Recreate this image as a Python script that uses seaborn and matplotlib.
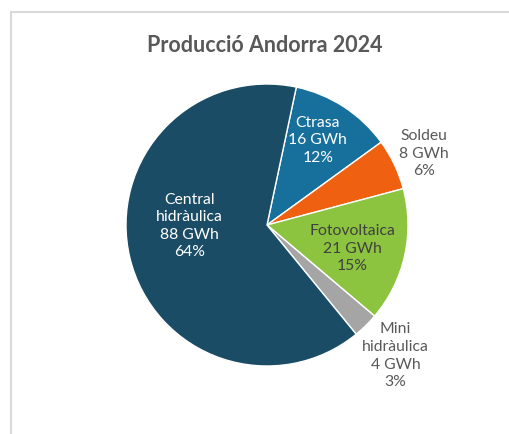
import numpy as np
import matplotlib
matplotlib.use("Agg")
import matplotlib.pyplot as plt
import seaborn as sns
from matplotlib.patches import Rectangle

categories = ["Ctrasa", "Soldeu", "Fotovoltaica", "Mini\nhidràulica", "Central\nhidràulica"]
values_gwh = [16, 8, 21, 4, 88]
percent_labels = ["12%", "6%", "15%", "3%", "64%"]
colors = ["#17709c", "#ef6010", "#8cc43f", "#a5a5a5", "#1b4c66"]
text_colors = ["white", "#595959", "#404040", "#595959", "white"]
# (radial distance, angle offset in degrees) for each label
label_pos = [(0.70, 2), (1.22, -1), (0.63, -3), (1.30, 0), (0.55, -13)]

sns.set_theme(style="white")
plt.rcParams["font.family"] = ["Lato", "DejaVu Sans"]

W, H = 510, 434
fig = plt.figure(figsize=(W / 100, H / 100), dpi=100)
fig.patch.set_facecolor("white")

# frame border
fig.patches.append(Rectangle((11 / W, -0.1), 1.2, (H - 12) / H + 0.1,
                             transform=fig.transFigure, fill=False,
                             edgecolor="#d9d9d9", linewidth=1.5))

cx, cy, R = 267, 434 - 225, 141
L = 1.4
S = 2 * L * R
ax = fig.add_axes([(cx - S / 2) / W, (cy - S / 2) / H, S / W, S / H])
wedges, _ = ax.pie(values_gwh, colors=colors, startangle=78, counterclock=False,
                   radius=1.0, wedgeprops=dict(edgecolor="white", linewidth=1.0))
ax.set_xlim(-L, L)
ax.set_ylim(-L, L)
ax.set_aspect("equal")
ax.axis("off")

for w, cat, v, p, tc, (rd, off) in zip(wedges, categories, values_gwh,
                                        percent_labels, text_colors, label_pos):
    mid = np.deg2rad((w.theta1 + w.theta2) / 2 + off)
    x, y = rd * np.cos(mid), rd * np.sin(mid)
    ax.text(x, y, f"{cat}\n{v} GWh\n{p}", ha="center", va="center",
            color=tc, fontsize=11.3, linespacing=1.32)

fig.text(265 / W, 1 - 45 / H, "Producció Andorra 2024", ha="center", va="center",
         fontsize=15.5, fontweight="bold", color="#595959")

fig.savefig("out.png", dpi=100, facecolor="white")
